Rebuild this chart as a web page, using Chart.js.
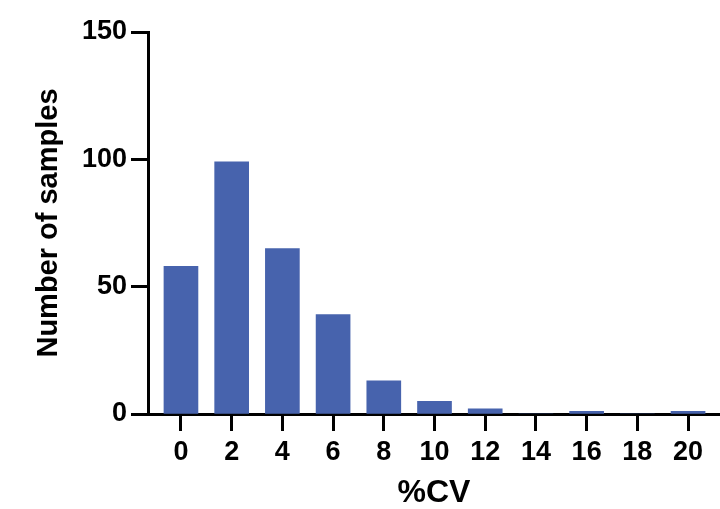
<!DOCTYPE html>
<html lang="en">
<head>
  <meta charset="UTF-8" />
  <title>%CV histogram</title>
  <script src="https://cdn.jsdelivr.net/npm/chart.js"></script>
  <style>
    body {
      margin: 0;
      background: #ffffff;
    }
    #wrap {
      width: 720px;
      height: 509px;
    }
  </style>
</head>
<body>
  <div id="wrap">
    <canvas id="cvChart" width="720" height="509"></canvas>
  </div>

  <script>
    // %CV bins and the number of samples in each
    const cvBins = [0, 2, 4, 6, 8, 10, 12, 14, 16, 18, 20];
    const sampleCounts = [58, 99, 65, 39, 13, 5, 2, 0, 1, 0, 1];
    const yTicks = [0, 50, 100, 150];

    const fontFamily = "'Liberation Sans', Arial, sans-serif";
    const barColor = '#4763ad';

    const ctx = document.getElementById('cvChart').getContext('2d');

    new Chart(ctx, {
      type: 'bar',
      data: {
        datasets: [{
          data: cvBins.map((b, i) => ({ x: b, y: sampleCounts[i] })),
          backgroundColor: barColor,
          borderWidth: 0,
          barThickness: 34
        }]
      },
      options: {
        responsive: false,
        animation: false,
        layout: { padding: { top: 32, right: 0, bottom: 0, left: 0 } },
        plugins: {
          legend: { display: false },
          tooltip: { enabled: false }
        },
        scales: {
          x: {
            type: 'linear',
            offset: false,
            min: -1.3,
            max: 21.26,
            afterBuildTicks: s => { s.ticks = cvBins.map(v => ({ value: v })); },
            afterFit: s => { s.height = 95; },
            border: { display: true, color: '#000', width: 3 },
            grid: {
              offset: false,
              drawOnChartArea: false,
              drawTicks: true,
              tickLength: 17,
              tickWidth: 3,
              tickColor: '#000'
            },
            ticks: {
              color: '#000',
              padding: 5,
              maxRotation: 0,
              autoSkip: false,
              font: { family: fontFamily, size: 27, weight: 'bold' }
            },
            title: {
              display: true,
              text: '%CV',
              color: '#000',
              padding: { top: 0, bottom: 0 },
              font: { family: fontFamily, size: 32, weight: 'bold', lineHeight: 1 }
            }
          },
          y: {
            min: 0,
            max: 150,
            afterBuildTicks: s => { s.ticks = yTicks.map(v => ({ value: v })); },
            afterFit: s => { s.width = 148; },
            border: { display: true, color: '#000', width: 3 },
            grid: {
              drawOnChartArea: false,
              drawTicks: true,
              tickLength: 17,
              tickWidth: 3,
              tickColor: '#000'
            },
            ticks: {
              color: '#000',
              padding: 4,
              font: { family: fontFamily, size: 27, weight: 'bold' }
            },
            title: {
              display: true,
              text: 'Number of samples',
              color: '#000',
              padding: { top: 32, bottom: 0 },
              font: { family: fontFamily, size: 29, weight: 'bold', lineHeight: 1.2 }
            }
          }
        }
      }
    });
  </script>
</body>
</html>
